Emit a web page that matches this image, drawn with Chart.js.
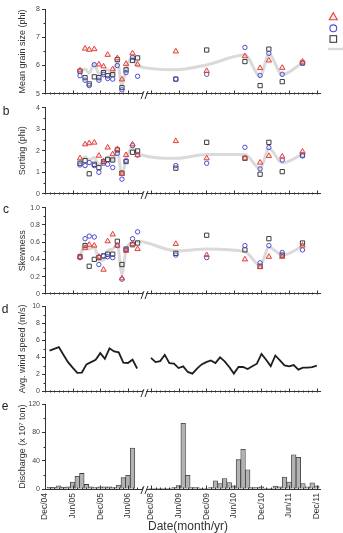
<!DOCTYPE html>
<html>
<head>
<meta charset="utf-8">
<script src="https://cdn.jsdelivr.net/npm/chart.js@4.4.1/dist/chart.umd.min.js"></script>
<style>
html,body{margin:0;padding:0;background:#fff;}
body{width:343px;height:533px;position:relative;overflow:hidden;}
canvas{position:absolute;left:0;}
</style>
</head>
<body>
<canvas id="cA" width="343" height="100" style="top:0px"></canvas>
<canvas id="cB" width="343" height="100" style="top:100px"></canvas>
<canvas id="cC" width="343" height="100" style="top:200px"></canvas>
<canvas id="cD" width="343" height="98" style="top:300px"></canvas>
<canvas id="cE" width="343" height="135" style="top:398px"></canvas>
<script>
// ---------- categories (month index, 0 = Dec/04) ----------
const tickMonths = [0, 6, 12, 18, 23, 29, 35, 41, 47, 53, 59];
const tickLabels = ['Dec/04','Jun/05','Dec/05','Jun/06','Dec/08','Jun/09','Dec/09','Jun/10','Dec/10','Jun/11','Dec/11'];
const sampleMonths = [7.6, 8.7, 9.6, 10.7, 11.7, 12.7, 13.6, 14.7, 15.7, 16.7, 17.6, 19.0, 20.1, 28.4, 35.1, 43.4, 46.7, 48.6, 51.5, 55.9];
const seriesNames = ['Triangle series', 'Circle series', 'Square series', 'Mean'];

// (a) mean grain size (phi)
const sizeTriangle = [5.83,6.60,6.56,6.58,6.04,5.97,6.38,5.87,6.26,5.51,6.06,6.43,6.04,6.50,5.81,6.33,5.91,6.18,5.92,6.14];
const sizeCircle   = [5.64,5.48,5.29,6.03,5.48,5.68,5.54,5.52,6.00,5.14,5.75,6.29,5.62,5.52,5.69,6.64,5.65,6.43,5.69,6.09];
const sizeSquare   = [5.80,5.57,5.35,5.60,5.57,5.75,5.64,5.68,6.21,5.22,5.85,6.18,6.27,5.52,6.55,6.14,5.29,6.58,5.43,6.09];
const sizeMean     = [5.76,5.88,5.73,6.07,5.70,5.80,5.85,5.69,6.16,5.29,5.89,6.30,5.98,5.85,6.02,6.37,5.62,6.40,5.68,6.10];
// (b) sorting (phi)
const sortTriangle = [1.65,2.30,2.35,2.38,1.77,1.50,2.15,1.84,2.08,0.93,1.80,2.30,1.80,2.45,1.65,1.65,1.45,1.76,1.73,1.96];
const sortCircle   = [1.34,1.31,1.45,1.31,1.00,1.42,1.37,1.22,1.88,0.68,1.53,2.24,1.80,1.31,1.42,2.16,1.16,2.15,1.57,1.76];
const sortSquare   = [1.42,1.54,0.93,1.37,1.22,1.50,1.60,1.57,2.04,0.96,1.50,1.93,1.99,1.19,2.39,1.65,0.91,2.39,1.03,1.80];
const sortMean     = [1.47,1.72,1.58,1.69,1.33,1.47,1.71,1.54,2.00,0.86,1.61,2.16,1.86,1.65,1.82,1.82,1.17,2.10,1.44,1.84];
// (c) skewness
const skewTriangle = [0.43,0.53,0.57,0.56,0.43,0.28,0.61,0.69,0.56,0.18,0.50,0.58,0.52,0.58,0.45,0.40,0.31,0.43,0.43,0.56];
const skewCircle   = [0.42,0.64,0.67,0.66,0.34,0.44,0.43,0.42,0.56,0.17,0.51,0.64,0.72,0.45,0.42,0.56,0.36,0.56,0.48,0.51];
const skewSquare   = [0.43,0.56,0.32,0.40,0.42,0.44,0.46,0.46,0.61,0.34,0.52,0.57,0.59,0.47,0.68,0.51,0.32,0.64,0.45,0.59];
const skewMean     = [0.43,0.58,0.52,0.54,0.40,0.39,0.50,0.52,0.58,0.23,0.51,0.60,0.61,0.50,0.52,0.49,0.33,0.54,0.45,0.55];
// (d) average wind speed (m/s): Jan/05..Aug/06 and Dec/08..Dec/11
const windStartLeft = 1;
const windLeft  = [4.8,5.0,5.2,4.3,3.44,2.8,2.18,2.22,3.18,3.45,3.72,4.5,3.83,5.06,4.7,4.6,3.38,3.34,3.73,2.7];
const windStartRight = 23;
const windRight = [3.95,3.45,3.56,4.3,3.33,3.26,2.75,2.95,2.29,2.1,2.68,3.18,3.45,3.64,3.33,4.0,3.53,2.87,2.1,2.87,2.87,2.64,2.95,3.26,4.41,3.72,2.98,4.22,3.64,3.06,2.95,3.1,2.57,2.8,2.8,2.87,3.03];
// (e) discharge (x 10^7 ton): Jan/05..Jul/06 and Dec/08..Dec/11
const dischStartLeft = 1;
const dischargeLeft  = [2.3,2.5,4.6,2.5,3,9.7,18,22,6.5,3,2,3,3,3,2,5.5,16,19.5,58];
const dischStartRight = 23;
const dischargeRight = [1,0.5,1,0.5,1,2,5,93,19.4,2,2,1,1,2,11.5,7.8,14.8,9.2,4.6,41.5,56.3,27.3,2,2,3,0.5,1,4.2,3.2,17,9.7,48.5,44.8,7.8,3.2,8.8,4.6];

// ---------- styling ----------
const FONT = "'Liberation Sans', Arial, Helvetica, sans-serif";
Chart.defaults.font.family = FONT;
const AX = '#333';
const RED = '#e2403a', BLUE = '#4b4bd4', DARK = '#3c3c3c', MEANC = '#dadada';
const X_MIN = 0, X_MAX = 59.7, BREAK_AT = 21.6;
const axisMonths = [];
for (let m = 0; m <= 59; m++) if (m !== 22) axisMonths.push(m);

function xScaleHidden() {
  return {
    type: 'linear', min: X_MIN, max: X_MAX, offset: false,
    grid: {display: false, drawTicks: false},
    border: {display: true, color: AX, width: 1},
    ticks: {display: false},
    afterFit: s => { s.height = 0; }
  };
}
function yScale(min, max, step, title) {
  return {
    min, max,
    ticks: {stepSize: step, font: {size: 7}, color: '#444', padding: 2},
    grid: {display: true, drawOnChartArea: false, drawTicks: true, tickLength: 3, color: AX, tickColor: AX},
    border: {display: true, color: AX, width: 1},
    title: {display: true, text: title, font: {size: 9}, color: '#333', padding: {top: 17, bottom: 0}},
    afterFit: s => { s.width = 45; }
  };
}
function pts(xs, ys) { return ys.map((v, i) => ({x: xs[i], y: v})); }
function seq(start, vals) { return vals.map((v, i) => ({x: start + i, y: v})); }

function decor(opts) {
  return {
    id: 'decor',
    afterDraw(chart) {
      const ctx = chart.ctx, xs = chart.scales.x, ys = chart.scales.y, ca = chart.chartArea;
      const by = Math.round(ca.bottom) + 0.5;
      ctx.save();
      ctx.strokeStyle = AX; ctx.lineWidth = 1;
      ctx.beginPath();
      axisMonths.forEach(m => {
        const px = Math.round(xs.getPixelForValue(m)) + 0.5;
        const len = tickMonths.includes(m) ? 4 : 2;
        ctx.moveTo(px, by); ctx.lineTo(px, by - len);
      });
      const lx = Math.round(ca.left) + 0.5;
      for (let v = ys.min + opts.minor; v < ys.max - 1e-9; v += 2 * opts.minor) {
        const py = Math.round(ys.getPixelForValue(v)) + 0.5;
        ctx.moveTo(lx, py); ctx.lineTo(lx - 2, py);
      }
      ctx.stroke();
      // axis break "//"
      const bx = xs.getPixelForValue(BREAK_AT);
      ctx.fillStyle = '#fff';
      ctx.fillRect(bx - 1.5, by - 1.5, 3, 3);
      ctx.beginPath();
      ctx.moveTo(bx - 3.5, by + 4.5); ctx.lineTo(bx - 0.5, by - 3.5);
      ctx.moveTo(bx + 0.5, by + 4.5); ctx.lineTo(bx + 3.5, by - 3.5);
      ctx.stroke();
      // panel letter
      if (opts.letter) {
        ctx.fillStyle = '#222';
        ctx.font = '12px ' + FONT;
        ctx.textAlign = 'center'; ctx.textBaseline = 'middle';
        ctx.fillText(opts.letter, opts.lx, opts.ly);
      }
      if (opts.xTitle) {
        ctx.fillStyle = '#333';
        ctx.font = '12px ' + FONT;
        ctx.textAlign = 'center'; ctx.textBaseline = 'middle';
        ctx.fillText(opts.xTitle, opts.tx, opts.ty);
      }
      if (opts.legend) {
        const lx0 = 333.3;
        ctx.lineWidth = 1.1;
        ctx.strokeStyle = RED; ctx.fillStyle = 'rgba(226,64,58,0.12)';
        ctx.beginPath();
        ctx.moveTo(lx0, 12.7); ctx.lineTo(lx0 + 4, 19.8); ctx.lineTo(lx0 - 4, 19.8); ctx.closePath();
        ctx.fill(); ctx.stroke();
        ctx.strokeStyle = BLUE;
        ctx.beginPath(); ctx.arc(lx0, 28.3, 3.4, 0, Math.PI * 2); ctx.stroke();
        ctx.strokeStyle = DARK;
        ctx.strokeRect(lx0 - 3.3, 35.7, 6.6, 6.6);
        ctx.strokeStyle = MEANC; ctx.lineWidth = 2.5;
        ctx.beginPath(); ctx.moveTo(328, 49); ctx.lineTo(343, 49); ctx.stroke();
      }
      ctx.restore();
    }
  };
}

function scatterPanel(id, tri, cir, sq, mean, yMin, yMax, step, minor, title, pad, dec) {
  new Chart(document.getElementById(id), {
    type: 'scatter',
    data: {
      datasets: [
        {label: seriesNames[0], data: pts(sampleMonths, tri), pointStyle: 'triangle', pointRadius: 3.1,
         borderColor: RED, backgroundColor: 'rgba(226,64,58,0.12)', pointBorderWidth: 1, order: 1},
        {label: seriesNames[1], data: pts(sampleMonths, cir), pointStyle: 'circle', pointRadius: 2.2,
         borderColor: BLUE, backgroundColor: 'rgba(0,0,0,0)', pointBorderWidth: 1, order: 2},
        {label: seriesNames[2], data: pts(sampleMonths, sq), pointStyle: 'rect', pointRadius: 3.0,
         borderColor: DARK, backgroundColor: 'rgba(0,0,0,0)', pointBorderWidth: 1, order: 3},
        {label: seriesNames[3], data: pts(sampleMonths, mean), showLine: true, pointRadius: 0,
         borderColor: MEANC, borderWidth: 3, cubicInterpolationMode: 'monotone', order: 10}
      ]
    },
    options: {
      responsive: false, animation: false, devicePixelRatio: 1,
      layout: {padding: {top: pad[0], bottom: pad[1], left: 0, right: 23}},
      plugins: {legend: {display: false}, tooltip: {enabled: false}},
      scales: {x: xScaleHidden(), y: yScale(yMin, yMax, step, title)}
    },
    plugins: [decor(Object.assign({minor}, dec))]
  });
}

scatterPanel('cA', sizeTriangle, sizeCircle, sizeSquare, sizeMean, 5, 8, 1, 0.5, 'Mean grain size (phi)', [9, 4.3], {legend: true});
scatterPanel('cB', sortTriangle, sortCircle, sortSquare, sortMean, 0, 4, 1, 0.5, 'Sorting (phi)', [7.7, 6], {letter: 'b', lx: 6, ly: 11.7});
scatterPanel('cC', skewTriangle, skewCircle, skewSquare, skewMean, 0, 1, 0.2, 0.1, 'Skewness', [7.7, 6], {letter: 'c', lx: 6, ly: 10});

// (d) wind
new Chart(document.getElementById('cD'), {
  type: 'line',
  data: {
    datasets: [{
      label: 'Avg. wind speed',
      data: seq(windStartLeft, windLeft).concat([{x: 21.5, y: null}], seq(windStartRight, windRight)),
      borderColor: '#1e1e1e', borderWidth: 1.8, pointRadius: 0, tension: 0, spanGaps: false
    }]
  },
  options: {
    responsive: false, animation: false, devicePixelRatio: 1,
    layout: {padding: {top: 5, bottom: 6.5, left: 0, right: 23}},
    plugins: {legend: {display: false}, tooltip: {enabled: false}},
    scales: {x: xScaleHidden(), y: yScale(0, 10, 2, 'Avg. wind speed (m/s)')}
  },
  plugins: [decor({minor: 1, letter: 'd', lx: 5, ly: 10})]
});

// (e) discharge
new Chart(document.getElementById('cE'), {
  type: 'bar',
  data: {
    datasets: [{
      label: 'Discharge',
      data: seq(dischStartLeft, dischargeLeft).concat(seq(dischStartRight, dischargeRight)),
      backgroundColor: '#b3b3b3', borderColor: '#3a3a3a', borderWidth: 0.8,
      barPercentage: 1, categoryPercentage: 1
    }]
  },
  options: {
    responsive: false, animation: false, devicePixelRatio: 1,
    layout: {padding: {top: 4.7, bottom: 0, left: 0, right: 23}},
    plugins: {legend: {display: false}, tooltip: {enabled: false}},
    scales: {
      x: {
        type: 'linear', min: X_MIN, max: X_MAX, offset: false,
        grid: {display: false, drawTicks: false},
        border: {display: true, color: AX, width: 1},
        ticks: {display: true, autoSkip: false, minRotation: 90, maxRotation: 90, padding: 4,
                font: {size: 8.5}, color: '#333',
                callback: v => { const i = tickMonths.indexOf(v); return i >= 0 ? tickLabels[i] : ''; }},
        afterBuildTicks: s => { s.ticks = tickMonths.map(v => ({value: v})); },
        afterFit: s => { s.height = 44; }
      },
      y: yScale(0, 120, 40, 'Discharge (x 10\u2077 ton)')
    }
  },
  plugins: [decor({minor: 20, letter: 'e', lx: 5, ly: 8.7, xTitle: 'Date(month/yr)', tx: 188, ty: 129})]
});
</script>
</body>
</html>
